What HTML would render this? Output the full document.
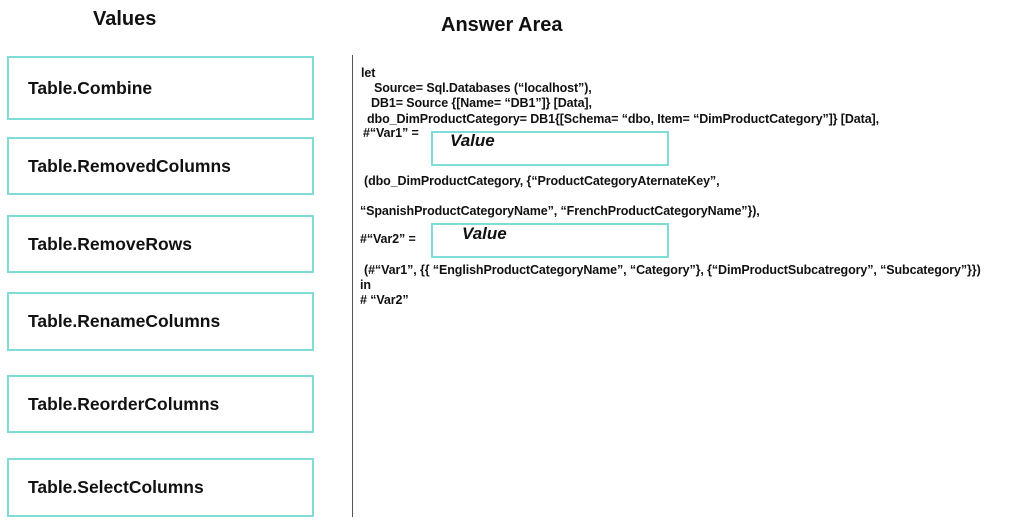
<!DOCTYPE html>
<html><head><style>
body{margin:0;width:1020px;height:530px;background:#fff;position:relative;overflow:hidden;font-family:"Liberation Sans",Arial,sans-serif;color:#111}
.h{position:absolute;font-weight:bold;font-size:20px}
.b{position:absolute;left:7px;width:307px;border:2px solid #7fdcd6;box-sizing:border-box;font-weight:bold;font-size:17.5px;padding-left:19px;display:flex;align-items:center}
.t{position:absolute;font-weight:bold;font-size:12.5px;white-space:nowrap;letter-spacing:-0.1px}
.v{position:absolute;left:431px;width:238px;border:2px solid #7fdcd6;box-sizing:border-box;height:35px}
.vl{position:absolute;font-weight:bold;font-style:italic;font-size:17px}
</style></head><body>
<div class="h" style="left:93px;top:8px">Values</div>
<div class="h" style="left:441px;top:14px">Answer Area</div>
<div class="b" style="top:56px;height:64px">Table.Combine</div>
<div class="b" style="top:137px;height:58px">Table.RemovedColumns</div>
<div class="b" style="top:215px;height:58px">Table.RemoveRows</div>
<div class="b" style="top:292px;height:59px">Table.RenameColumns</div>
<div class="b" style="top:375px;height:58px">Table.ReorderColumns</div>
<div class="b" style="top:458px;height:59px">Table.SelectColumns</div>
<div style="position:absolute;left:352px;top:55px;width:1px;height:462px;background:#555"></div>
<div class="t" style="left:361px;top:66px">let</div>
<div class="t" style="left:374px;top:81px">Source= Sql.Databases (“localhost”),</div>
<div class="t" style="left:371px;top:96px">DB1= Source {[Name= “DB1”]} [Data],</div>
<div class="t" style="left:367px;top:112px">dbo_DimProductCategory= DB1{[Schema= “dbo, Item= “DimProductCategory”]} [Data],</div>
<div class="t" style="left:363px;top:126px">#“Var1” =</div>
<div class="v" style="top:131px"></div>
<div class="vl" style="left:450px;top:131px">Value</div>
<div class="t" style="left:364px;top:174px">(dbo_DimProductCategory, {“ProductCategoryAternateKey”,</div>
<div class="t" style="left:360px;top:204px">“SpanishProductCategoryName”, “FrenchProductCategoryName”}),</div>
<div class="t" style="left:360px;top:232px">#“Var2” =</div>
<div class="v" style="top:223px"></div>
<div class="vl" style="left:462px;top:224px">Value</div>
<div class="t" style="left:364px;top:263px">(#“Var1”, {{ “EnglishProductCategoryName”, “Category”}, {“DimProductSubcatregory”, “Subcategory”}})</div>
<div class="t" style="left:360px;top:278px">in</div>
<div class="t" style="left:360px;top:293px"># “Var2”</div>
</body></html>
